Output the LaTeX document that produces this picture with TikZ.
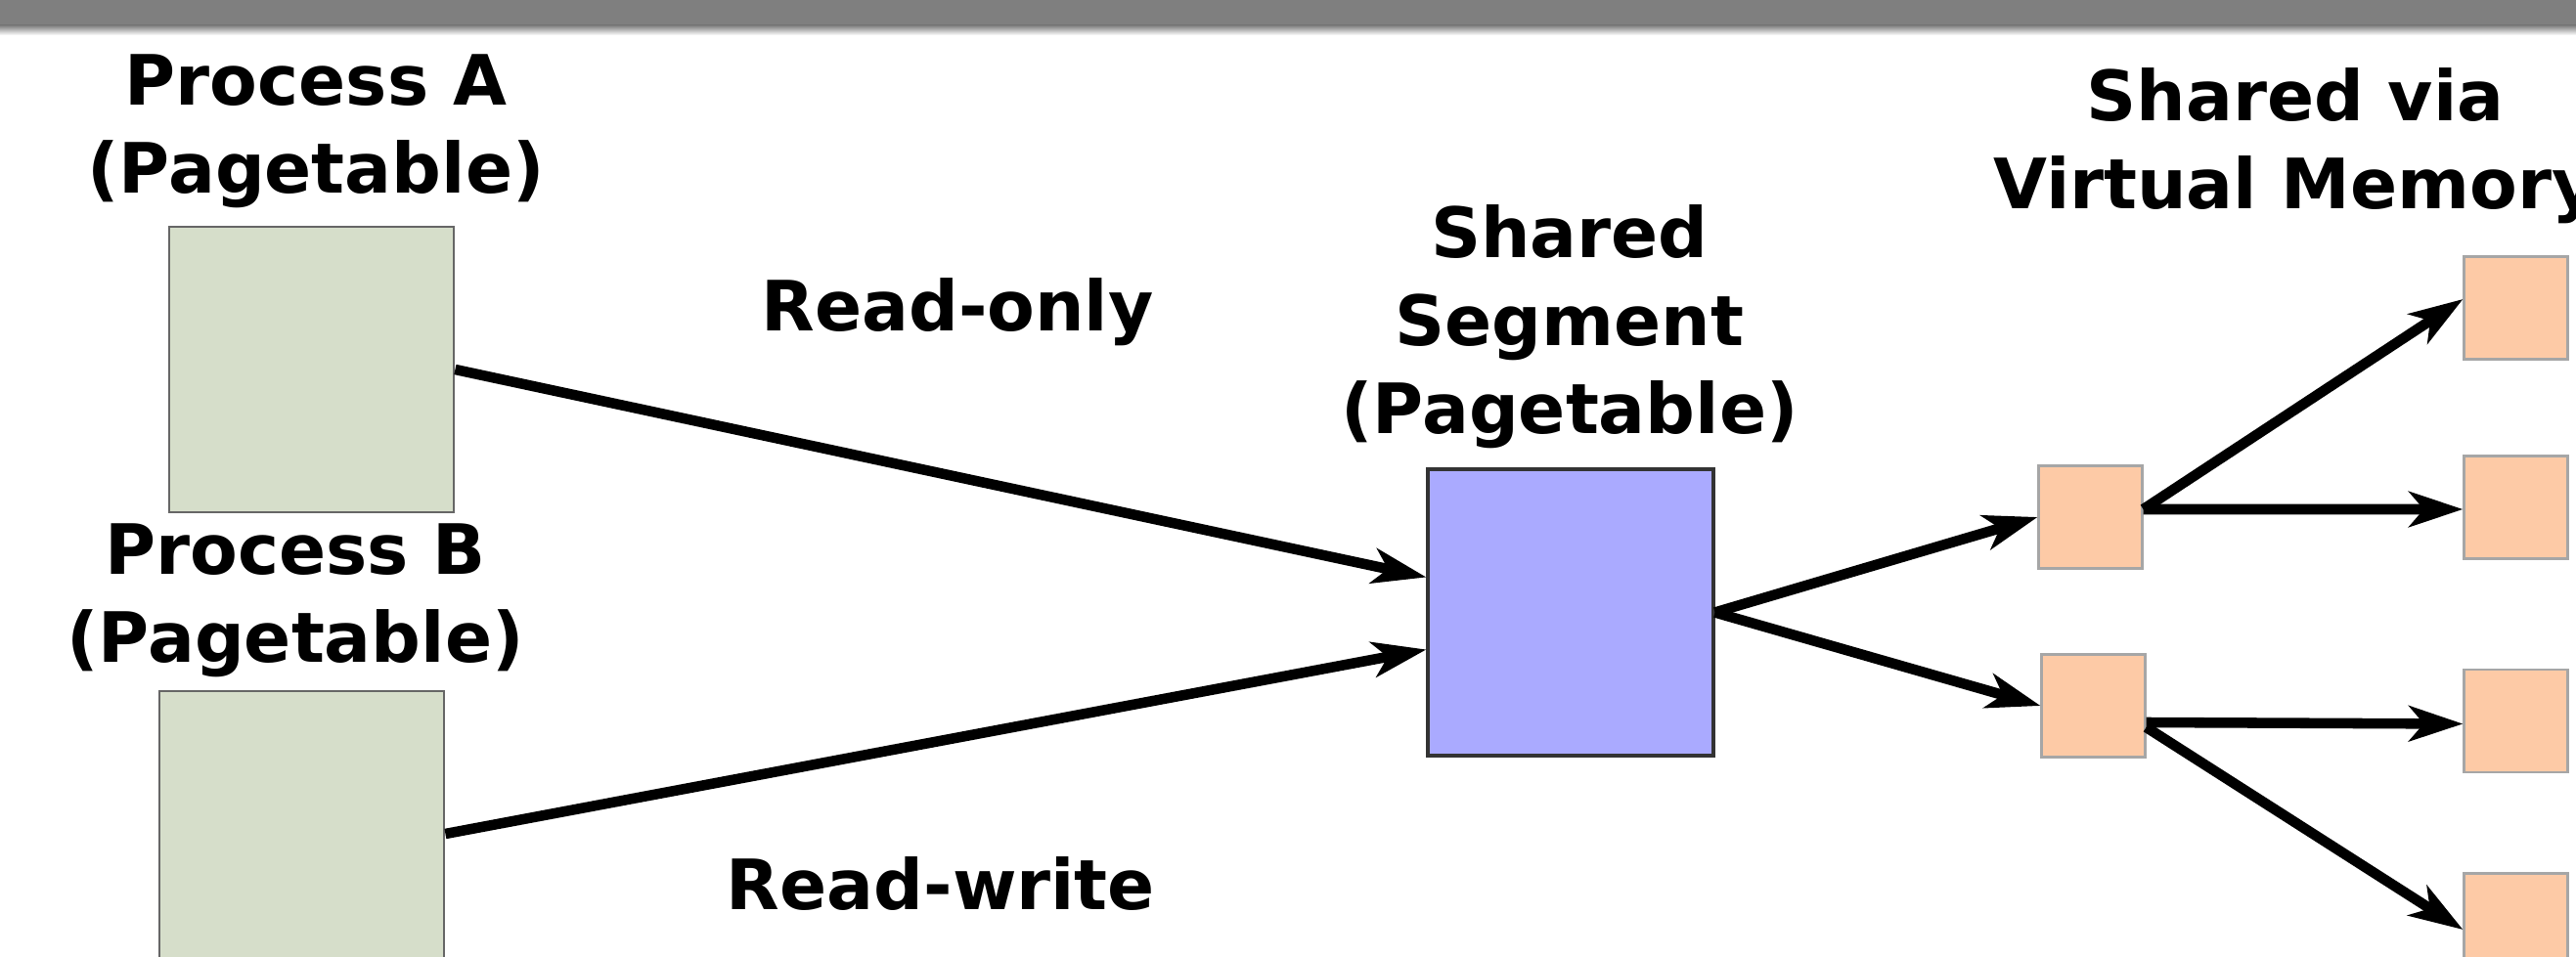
\documentclass[tikz,border=0pt]{standalone}
\usepackage{fontspec}
\setmainfont{DejaVu Sans}
\usepackage{tikz}
\usetikzlibrary{positioning,calc,arrows.meta}
\definecolor{ptGreen}{RGB}{214,222,202}
\definecolor{segBlue}{RGB}{170,170,255}
\definecolor{vmPeach}{RGB}{253,202,166}
\definecolor{barGray}{RGB}{127,127,127}

\begin{document}
\begin{tikzpicture}[
		ptable/.style={draw=black!60, fill=ptGreen, line width=0.8pt, minimum width=2.91cm, minimum height=2.92cm, inner sep=0pt},
		segment/.style={draw=black!80, fill=segBlue, line width=0.9pt, minimum width=2.92cm, minimum height=2.93cm, inner sep=0pt},
		vpage/.style={draw=black!35, fill=vmPeach, line width=0.6pt, minimum width=1.06cm, minimum height=1.05cm, inner sep=0pt},
		lbl/.style={font=\bfseries\fontsize{20.2pt}{25.6pt}\selectfont, align=center, inner sep=0pt},
		link/.style={line width=3pt, -{Stealth[length=0.55cm, width=0.36cm, inset=0.15cm]}}
		]
		\useasboundingbox (0,0) rectangle (26.34,9.78);
		
		% ===== grey bar along the top =====
		\fill[barGray] (0,9.52) rectangle (26.34,9.78);
		\shade[top color=barGray, bottom color=white] (0,9.42) rectangle (26.34,9.52);
		
		% ===== page tables of the two processes =====
		\node[ptable] (procA) at (3.185,6.00) {};
		\node[ptable] (procB) at (3.085,1.25) {};
		\node[lbl, anchor=south] (procAlbl) at ($(procA.north)+(0.045,0.17)$) {Process A\\(Pagetable)};
		\node[lbl, anchor=south] (procBlbl) at ($(procB.north)+(-0.065,0.12)$) {Process B\\(Pagetable)};
		
		% ===== shared segment =====
		\node[segment] (seg) at (16.06,3.515) {};
		\node[lbl, anchor=south] (seglbl) at ($(seg.north)+(-0.01,0.19)$) {Shared\\Segment\\(Pagetable)};
		
		% ===== pages shared via virtual memory =====
		\node[vpage] (sb1) at (21.375,4.49) {};
		\node[vpage] (sb2) at (21.405,2.56) {};
		\foreach \y [count=\i from 1] in {6.63,4.59,2.405,0.32}{
			\node[vpage] (rb\i) at (25.725,\y) {};
		}
		\node[lbl, anchor=south] (vmlbl) at (23.47,7.48) {Shared via\\Virtual Memory};
		
		% ===== access labels =====
		\node[lbl, anchor=base] (rolbl) at (9.79,6.39) {Read-only};
		\node[lbl, anchor=base] (rwlbl) at (9.62,0.47) {Read-write};
		
		% ===== arrows =====
		\draw[link] (procA.east) -- ([yshift=0.36cm]seg.west);
		\draw[link] (procB.east) -- ([yshift=-0.38cm]seg.west);
		\draw[link] (seg.east) -- (sb1.west);
		\draw[link] (seg.east) -- (sb2.west);
		\draw[link] ([yshift=0.08cm]sb1.east) -- ([yshift=0.09cm]rb1.west);
		\draw[link] ([yshift=0.08cm]sb1.east) -- ([yshift=-0.02cm]rb2.west);
		\draw[link] ([yshift=-0.17cm]sb2.east) -- ([yshift=-0.03cm]rb3.west);
		\draw[link] ([yshift=-0.22cm]sb2.east) -- ([yshift=-0.05cm]rb4.west);
		
	\end{tikzpicture}
\end{document}
